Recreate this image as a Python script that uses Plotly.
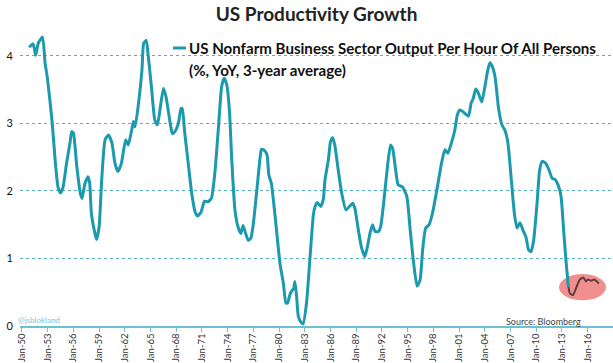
import plotly.graph_objects as go

years = [1950.85, 1951.3, 1951.6, 1951.9, 1952.4, 1952.7, 1952.95, 1953.5, 1953.9, 1954.2,
         1954.5, 1954.8, 1955.2, 1955.6, 1955.8, 1956.0, 1956.4, 1956.8, 1957.0, 1957.35,
         1957.7, 1957.9, 1958.1, 1958.5, 1958.7, 1959.0, 1959.3, 1959.7, 1960.1, 1960.5,
         1960.85, 1961.2, 1961.6, 1962.1, 1962.4, 1962.8, 1963.0, 1963.2, 1963.6, 1964.0,
         1964.2, 1964.5, 1964.7, 1965.1, 1965.5, 1965.8, 1966.1, 1966.5, 1966.8, 1967.3,
         1967.55, 1967.85, 1968.25, 1968.55, 1968.7, 1969.0, 1969.4, 1969.8, 1970.2, 1970.5,
         1970.9, 1971.3, 1971.7, 1972.1, 1972.5, 1972.9, 1973.3, 1973.6, 1973.9, 1974.2,
         1974.5, 1974.85, 1975.2, 1975.55, 1975.8, 1976.1, 1976.4, 1976.7, 1977.0, 1977.4,
         1977.8, 1977.95, 1978.3, 1978.6, 1978.8, 1979.1, 1979.5, 1980.1, 1980.5, 1980.8,
         1981.0, 1981.3, 1981.7, 1981.85, 1982.05, 1982.25, 1982.6, 1982.8, 1983.2, 1983.6,
         1984.0, 1984.2, 1984.45, 1984.85, 1985.15, 1985.35, 1985.75, 1986.0, 1986.25, 1986.5,
         1986.9, 1987.3, 1987.8, 1988.2, 1988.6, 1988.85, 1989.25, 1989.6, 1990.0, 1990.3,
         1990.6, 1990.9, 1991.2, 1991.6, 1991.85, 1992.2, 1992.6, 1993.0, 1993.25, 1993.6,
         1993.9, 1994.4, 1994.9, 1995.3, 1995.7, 1996.1, 1996.45, 1996.75, 1997.1, 1997.5,
         1997.9, 1998.4, 1998.95, 1999.35, 1999.7, 2000.1, 2000.5, 2000.8, 2001.1, 2001.5,
         2002.1, 2002.4, 2002.65, 2002.95, 2003.25, 2003.65, 2003.95, 2004.35, 2004.6, 2004.9,
         2005.2, 2005.6, 2006.0, 2006.35, 2006.7, 2007.1, 2007.45, 2007.75, 2008.1, 2008.45,
         2008.8, 2009.1, 2009.4, 2009.7, 2010.1, 2010.4, 2010.7, 2011.1, 2011.5, 2011.85,
         2012.2, 2012.55, 2012.9, 2013.2, 2013.5, 2013.75, 2013.95, 2014.3, 2014.7, 2015.1,
         2015.5, 2015.8, 2016.05, 2016.4, 2016.75, 2017.0, 2017.3]

productivity = [4.13, 4.18, 4.01, 4.19, 4.28, 3.89, 3.69, 3.05, 2.41, 2.06,
                1.97, 2.06, 2.41, 2.71, 2.88, 2.86, 2.36, 1.97, 1.89, 2.11,
                2.21, 2.12, 1.67, 1.38, 1.28, 1.47, 2.16, 2.76, 2.83, 2.71,
                2.41, 2.29, 2.41, 2.76, 2.68, 2.90, 3.03, 2.95, 3.30, 3.79,
                4.19, 4.23, 4.04, 3.55, 3.05, 2.98, 3.20, 3.52, 3.40, 3.00,
                2.85, 2.88, 3.00, 3.22, 3.22, 2.85, 2.41, 1.97, 1.69, 1.63,
                1.69, 1.85, 1.84, 1.89, 2.26, 2.90, 3.55, 3.67, 3.57, 3.20,
                2.41, 1.72, 1.47, 1.37, 1.49, 1.37, 1.27, 1.30, 1.52, 2.01,
                2.51, 2.62, 2.60, 2.53, 2.24, 2.11, 1.67, 0.93, 0.63, 0.34,
                0.34, 0.48, 0.56, 0.66, 0.43, 0.14, 0.05, 0.03, 0.34, 1.00,
                1.65, 1.77, 1.83, 1.77, 1.87, 2.16, 2.46, 2.73, 2.79, 2.68,
                2.31, 1.97, 1.72, 1.77, 1.82, 1.74, 1.42, 1.17, 1.03, 1.17,
                1.37, 1.50, 1.40, 1.40, 1.47, 1.82, 2.31, 2.68, 2.63, 2.31,
                2.09, 2.06, 1.92, 1.42, 0.93, 0.59, 0.68, 1.13, 1.45, 1.50,
                1.67, 2.01, 2.41, 2.61, 2.56, 2.71, 2.90, 3.13, 3.20, 3.17,
                3.11, 3.30, 3.37, 3.51, 3.45, 3.32, 3.50, 3.79, 3.90, 3.84,
                3.69, 3.23, 2.98, 2.90, 2.71, 2.16, 1.67, 1.45, 1.53, 1.42,
                1.32, 1.13, 1.10, 1.27, 1.82, 2.31, 2.44, 2.41, 2.31, 2.19,
                2.17, 2.09, 1.92, 1.42, 0.93, 0.58, 0.48, 0.46, 0.58, 0.69,
                0.72, 0.66, 0.69, 0.67, 0.69, 0.67, 0.63]

tick_years = [1950, 1953, 1956, 1959, 1962, 1965, 1968, 1971, 1974, 1977, 1980, 1983,
              1986, 1989, 1992, 1995, 1998, 2001, 2004, 2007, 2010, 2013, 2016]
tick_labels = ["Jan-50", "Jan-53", "Jan-56", "Jan-59", "Jan-62", "Jan-65", "Jan-68", "Jan-71",
               "Jan-74", "Jan-77", "Jan-80", "Jan-83", "Jan-86", "Jan-89", "Jan-92", "Jan-95",
               "Jan-98", "Jan-01", "Jan-04", "Jan-07", "Jan-10", "Jan-13", "Jan-16"]
y_ticks = [0, 1, 2, 3, 4]

series_name = "US Nonfarm Business Sector Output Per Hour Of All Persons"
series_sub = "(%, YoY, 3-year average)"

TEAL = "#1b9aae"
FONT = "Lato"

split = 2013.75
teal_x = [x for x in years if x <= split]
teal_y = [v for x, v in zip(years, productivity) if x <= split]
dark_x = [x for x in years if x >= split]
dark_y = [v for x, v in zip(years, productivity) if x >= split]

fig = go.Figure()
fig.add_trace(go.Scatter(x=teal_x, y=teal_y, mode="lines", name=series_name,
                         line=dict(color=TEAL, width=3, shape="spline", smoothing=0.5),
                         showlegend=False, hoverinfo="x+y"))
fig.add_trace(go.Scatter(x=dark_x, y=dark_y, mode="lines", name=series_name,
                         line=dict(color="#5a3c40", width=2, shape="spline", smoothing=0.5),
                         showlegend=False, hoverinfo="x+y"))

# highlight ellipse
fig.add_shape(type="circle", xref="x", yref="y", x0=2012.66, x1=2018.14, y0=0.38, y1=0.77,
              fillcolor="rgba(236,100,100,0.72)", line=dict(width=0), layer="below")

# legend swatch
fig.add_shape(type="line", xref="paper", yref="paper",
              x0=(173 - 20) / 593, x1=(186 - 20) / 593, y0=(326 - 48) / 296, y1=(326 - 48) / 296,
              line=dict(color=TEAL, width=3))

fig.update_layout(
    width=613, height=363,
    margin=dict(l=20, r=0, t=30, b=37),
    paper_bgcolor="white", plot_bgcolor="white",
    font=dict(family=FONT, color="#222"),
    title=dict(text="<b>US Productivity Growth</b>", x=0.5, xref="paper", xanchor="center",
               y=1 - 14 / 363, yref="container", yanchor="middle",
               font=dict(family=FONT, size=19, color="#222")),
    xaxis=dict(range=[1949.77, 2018.96], tickvals=tick_years, ticktext=tick_labels,
               tickangle=-90, showgrid=False, zeroline=False,
               showline=True, linecolor="#6cc0cf", linewidth=1.5,
               ticks="outside", ticklen=4, tickcolor="#6cc0cf", tickwidth=1,
               ticklabelstandoff=-2,
               tickfont=dict(family=FONT, size=9.5, color="#333")),
    yaxis=dict(range=[0, 4.385], tickvals=y_ticks, ticktext=[str(v) for v in y_ticks],
               showgrid=True, gridcolor="#5aaebe", griddash="dot", gridwidth=1,
               zeroline=False, showline=False, ticks="", ticklabelstandoff=6,
               tickfont=dict(family=FONT, size=11, color="#111")),
    annotations=[
        dict(text=f"<b>{series_name}</b>",
             xref="paper", yref="paper", x=(187 - 20) / 593, y=(326 - 48) / 296,
             xanchor="left", yanchor="middle", showarrow=False, align="left",
             font=dict(family=FONT, size=15.1, color="#111")),
        dict(text=f"<b>{series_sub}</b>",
             xref="paper", yref="paper", x=(187 - 20) / 593, y=(326 - 70) / 296,
             xanchor="left", yanchor="middle", showarrow=False, align="left",
             font=dict(family=FONT, size=15.1, color="#111")),
        dict(text="@jsblokland", xref="paper", yref="paper", x=(16 - 20) / 593, y=(326 - 320) / 296,
             xanchor="left", yanchor="middle", showarrow=False,
             font=dict(family=FONT, size=8, color="#7cc6d6")),
        dict(text="Source: Bloomberg", xref="paper", yref="paper", x=(504 - 20) / 593,
             y=(326 - 321) / 296, xanchor="left", yanchor="middle", showarrow=False,
             font=dict(family=FONT, size=9, color="#444")),
    ],
)

fig.write_html("out.html", config={"displayModeBar": False},
               post_script="document.body.style.margin='0';document.body.style.overflow='hidden';")
